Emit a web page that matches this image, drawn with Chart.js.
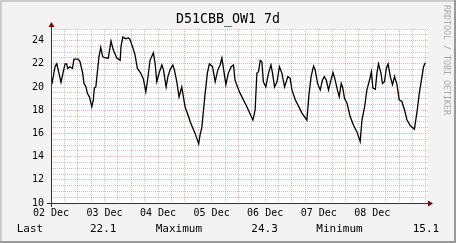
<!DOCTYPE html>
<html>
<head>
<meta charset="utf-8">
<script src="https://cdn.jsdelivr.net/npm/chart.js@4.4.0/dist/chart.umd.min.js"></script>
<style>
  html, body { margin: 0; padding: 0; background: #f3f3f3; }
  canvas { display: block; }
</style>
</head>
<body>
<canvas id="rrd" width="456" height="243"></canvas>
<script>
const title = "D51CBB_OW1 7d";
const watermark = "RRDTOOL / TOBI OETIKER";
const dayLabels = ["02 Dec", "03 Dec", "04 Dec", "05 Dec", "06 Dec", "07 Dec", "08 Dec"];

// hours since 02 Dec 00:00, temperature
const hours = [
  0, 0.6, 1.8, 2.6, 4.5, 5.5, 6.3, 7.0, 7.5, 8.5, 9.6, 10.3, 12.2, 13.0, 14.2, 14.8,
  15.7, 16.3, 17.2, 18.3, 19.0, 19.4, 20.1, 20.8, 21.5, 22.3, 23.2, 24.7, 25.7, 26.9,
  27.9, 29.5, 31.0, 31.4, 32.2, 33.6, 34.7, 35.4, 36.5, 37.7, 38.7, 40.2, 41.4, 42.5,
  43.2, 44.4, 45.9, 46.7, 47.4, 48.6, 49.7, 50.4, 51.6, 52.4, 53.4, 54.6, 55.3, 56.4,
  57.4, 58.6, 60.1, 61.9, 62.4, 64.6, 66.2, 66.8, 67.6, 69.1, 70.1, 71.0, 72.4, 73.6,
  74.8, 75.8, 76.6, 77.3, 78.4, 79.5, 80.8, 81.8, 82.5, 83.6, 84.8, 87.8, 90.5, 91.5,
  92.3, 93.0, 93.8, 94.5, 95.2, 96.3, 97.5, 98.6, 99.3, 100.2, 101.3, 102.4, 103.5,
  104.7, 106.2, 107.2, 108.0, 109.5, 112.5, 114.7, 115.7, 116.6, 117.7, 118.4, 119.5,
  120.7, 121.7, 122.5, 123.4, 124.4, 125.5, 126.4, 127.4, 128.2, 129.2, 130.1, 130.7,
  131.6, 132.7, 134.1, 135.6, 137.1, 138.6, 139.4, 140.6, 141.6, 142.8, 143.6, 144.3,
  145.4, 146.1, 146.8, 147.9, 148.6, 149.5, 150.3, 151.1, 152.1, 153.1, 154.0, 155.1,
  156.1, 157.3, 158.5, 159.6, 161.1, 162.9, 164.1, 165.1, 166.3, 167.0, 167.8
];
const temps = [
  20.9, 20.45, 21.75, 22.0, 20.4, 21.3, 22.0, 22.0, 21.6, 21.75, 21.6, 22.4, 22.4, 22.2, 21.2, 20.3,
  20.0, 19.45, 19.15, 18.3, 18.9, 19.9, 20.0, 21.3, 22.6, 23.4, 22.6, 22.5, 22.5, 23.96,
  23.2, 22.5, 22.3, 23.5, 24.3, 24.15, 24.25, 24.1, 23.5, 22.75, 21.6, 21.2, 20.7, 19.6,
  20.45, 22.3, 22.95, 22.0, 20.45, 21.3, 21.9, 21.5, 20.0, 20.9, 21.5, 21.9, 21.5, 20.45,
  19.15, 20.0, 18.3, 17.3, 17.0, 16.0, 15.1, 15.85, 16.5, 19.45, 21.2, 22.0, 21.75, 20.45,
  21.5, 21.9, 22.5, 21.6, 20.2, 21.2, 21.75, 21.9, 20.6, 20.0, 19.45, 18.3, 17.15, 18.0,
  21.2, 21.3, 22.3, 22.2, 20.45, 20.0, 21.2, 21.9, 21.2, 20.0, 20.45, 21.75, 21.2,
  20.0, 20.9, 20.75, 19.75, 18.9, 17.75, 17.15, 19.45, 20.9, 21.8, 21.5, 20.3,
  19.75, 20.6, 20.9, 20.6, 19.75, 20.6, 21.25, 20.6, 19.9, 19.15, 20.3, 20.0,
  19.0, 18.6, 17.45, 16.7, 16.15, 15.3, 17.15, 18.3, 19.75, 20.6, 21.3, 19.9,
  19.8, 21.2, 22.0, 21.2, 20.3, 20.45, 21.6, 22.0, 20.9, 20.2, 20.9, 20.2,
  18.9, 18.75, 18.0, 17.15, 16.65, 16.35, 17.9, 19.45, 20.9, 21.75, 22.1
];

const xMax = 169;
const yMin = 10, yMax = 25;
const mono = "'DejaVu Sans Mono', monospace";
const gridGrey = "rgba(150,150,150,0.55)";
const gridRed = "rgba(255,0,0,0.35)";

const points = hours.map((h, i) => ({ x: h, y: temps[i] }));

const rrdFrame = {
  id: "rrdFrame",
  beforeDraw(chart) {
    const ctx = chart.ctx, a = chart.chartArea;
    const W = chart.width, H = chart.height;
    ctx.save();
    ctx.fillStyle = "#f3f3f3";
    ctx.fillRect(0, 0, W, H);
    // shaded border
    ctx.fillStyle = "#cbcbcb";
    ctx.fillRect(0, 0, W, 2);
    ctx.fillRect(0, 0, 2, H);
    ctx.fillStyle = "#999999";
    ctx.fillRect(0, H - 2, W, 2);
    ctx.fillRect(W - 2, 0, 2, H);
    ctx.fillStyle = "#ffffff";
    ctx.fillRect(a.left, a.top, a.right - a.left, a.bottom - a.top);
    ctx.restore();
  },
  afterDraw(chart) {
    const ctx = chart.ctx, a = chart.chartArea;
    const W = chart.width;
    ctx.save();
    // axes
    ctx.strokeStyle = "#333333";
    ctx.lineWidth = 1;
    ctx.beginPath();
    ctx.moveTo(a.left - 4, a.bottom + 0.5);
    ctx.lineTo(a.right + 1, a.bottom + 0.5);
    ctx.moveTo(a.left + 0.5, a.bottom + 4);
    ctx.lineTo(a.left + 0.5, a.top - 2);
    ctx.stroke();
    // arrows
    ctx.fillStyle = "#7f0000";
    ctx.beginPath();
    ctx.moveTo(a.right + 5, a.bottom + 0.5);
    ctx.lineTo(a.right, a.bottom - 2.5);
    ctx.lineTo(a.right, a.bottom + 3.5);
    ctx.closePath();
    ctx.fill();
    ctx.beginPath();
    ctx.moveTo(a.left + 0.5, a.top - 7);
    ctx.lineTo(a.left - 2.5, a.top - 2);
    ctx.lineTo(a.left + 3.5, a.top - 2);
    ctx.closePath();
    ctx.fill();

    // title
    ctx.fillStyle = "#000000";
    ctx.textBaseline = "middle";
    ctx.textAlign = "center";
    ctx.font = "13.3px " + mono;
    ctx.fillText(title, W / 2, 19.5);

    // legend
    const last = temps[temps.length - 1];
    const maxV = Math.max(...temps), minV = Math.min(...temps);
    ctx.textAlign = "left";
    ctx.font = "11px " + mono;
    const row = 228.7;
    ctx.fillText("Last", 16.7, row);
    ctx.fillText(last.toFixed(1), 90, row);
    ctx.fillText("Maximum", 155.7, row);
    ctx.fillText(maxV.toFixed(1), 251.3, row);
    ctx.fillText("Minimum", 316.3, row);
    ctx.fillText(minV.toFixed(1), 412.7, row);

    // watermark
    ctx.translate(446.5, 5);
    ctx.rotate(Math.PI / 2);
    ctx.fillStyle = "#aaaaaa";
    ctx.font = "8.3px " + mono;
    ctx.textAlign = "left";
    ctx.fillText(watermark, 0, 0);
    ctx.restore();
  }
};

new Chart(document.getElementById("rrd"), {
  type: "line",
  data: {
    datasets: [{
      data: points,
      borderColor: "#000000",
      borderWidth: 1.3,
      pointRadius: 0,
      tension: 0,
      fill: false
    }]
  },
  options: {
    responsive: false,
    animation: false,
    devicePixelRatio: 1,
    layout: { padding: { left: 0, top: 29, right: 28, bottom: 0 } },
    plugins: { legend: { display: false }, tooltip: { enabled: false } },
    scales: {
      x: {
        type: "linear",
        min: 0,
        max: xMax,
        afterFit: s => { s.height = 40; },
        afterBuildTicks: s => {
          const t = [];
          for (let h = 0; h <= xMax; h += 6) t.push({ value: h });
          s.ticks = t;
        },
        grid: {
          drawTicks: false,
          color: c => (c.tick && c.tick.value % 24 === 12) ? gridRed : gridGrey,
          lineWidth: 1
        },
        border: { display: false, dash: [1, 1] },
        ticks: {
          autoSkip: false,
          maxRotation: 0,
          padding: 4,
          color: "#000000",
          font: { family: mono, size: 10 },
          callback: v => (v % 24 === 0) ? (dayLabels[v / 24] || "") : ""
        }
      },
      y: {
        min: yMin,
        max: yMax,
        afterFit: s => { s.width = 51; },
        afterBuildTicks: s => {
          const t = [];
          for (let v = yMin; v <= yMax; v += 0.5) t.push({ value: v });
          s.ticks = t;
        },
        grid: {
          drawTicks: false,
          color: c => (c.tick && c.tick.value % 2 === 0) ? gridRed : gridGrey,
          lineWidth: 1
        },
        border: { display: false, dash: [1, 1] },
        ticks: {
          autoSkip: false,
          padding: 7,
          color: "#000000",
          font: { family: mono, size: 10 },
          callback: v => (v % 2 === 0) ? String(v) : ""
        }
      }
    }
  },
  plugins: [rrdFrame]
});
</script>
</body>
</html>
